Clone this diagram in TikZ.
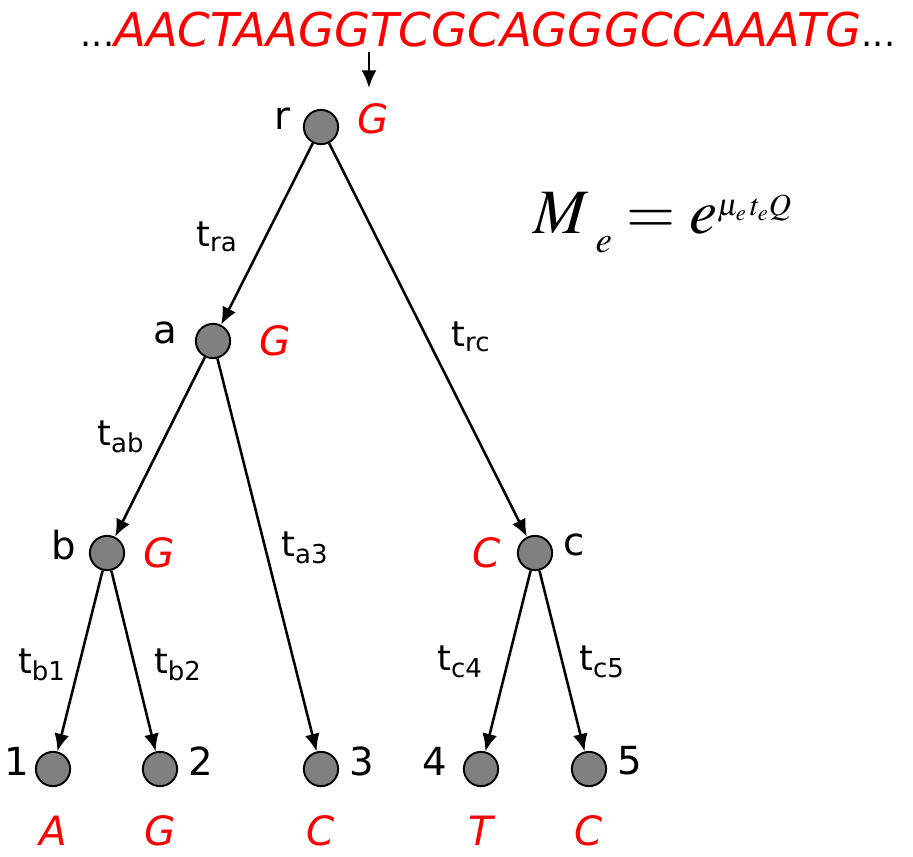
\documentclass[tikz,border=0pt]{standalone}
\usepackage{mathptmx}
\usepackage{fontspec}
\setmainfont{DejaVu Sans}
\usetikzlibrary{arrows.meta,positioning}
\definecolor{basered}{HTML}{FF0000}
\definecolor{nodegray}{HTML}{808080}
\tikzset{
  vertex/.style={
    circle, draw=black, fill=nodegray, line width=1.1pt,
    minimum size=19.5pt, inner sep=0pt
  },
  tag/.style={font=\fontsize{22}{22}\selectfont, inner sep=0pt, yshift=4.5pt},
  base/.style={font=\fontsize{23}{23}\selectfont\itshape, text=basered, inner sep=0pt},
  lifted/.style={yshift=4.5pt},
  brlen/.style={font=\fontsize{20}{20}\selectfont, inner sep=0pt},
  arrow/.style={-{Latex[length=10pt,width=8.5pt]}, line width=1.45pt}
}

\begin{document}
\begin{tikzpicture}[x=0.02cm, y=-0.02cm, node distance=6pt]
  \useasboundingbox (0,0) rectangle (913,856);

  % sequence and the site that is followed
  \node[font=\fontsize{26.5}{26.5}\selectfont, inner sep=0pt] (seq) at (488,30)
    {{\fontsize{20}{20}\selectfont...}{\itshape\color{basered}AACTAAGGTCGCAGGGCCAAATG}{\fontsize{20}{20}\selectfont...}};
  \coordinate (site) at (369,52);
  \coordinate (siteend) at (369,88);
  \draw[arrow] (site) -- (siteend);

  % tree
  \node[vertex] (r) at (321,127) {};
  \node[vertex] (a) at (213,341) {};
  \node[vertex] (b) at (107,553) {};
  \node[vertex] (c) at (535,553) {};
  \node[vertex] (l1) at (53,769) {};
  \node[vertex] (l2) at (160,769) {};
  \node[vertex] (l3) at (321,769) {};
  \node[vertex] (l4) at (481,769) {};
  \node[vertex] (l5) at (589,769) {};

  % names and states
  \node[tag, left=7pt of r] (rname) {r};
  \node[base, lifted, right=10pt of r] (rbase) {G};
  \node[tag, left=10pt of a] (aname) {a};
  \node[base, right=16pt of a] (abase) {G};
  \node[tag, left=7pt of b] (bname) {b};
  \node[base, right=10pt of b] (bbase) {G};
  \node[base, left=9pt of c] (cbase) {C};
  \node[tag, right=of c] (cname) {c};
  \node[tag, left=3pt of l1] (name1) {1};
  \node[tag, right=of l2] (name2) {2};
  \node[tag, right=of l3] (name3) {3};
  \node[tag, left=9pt of l4] (name4) {4};
  \node[tag, right=of l5] (name5) {5};
  \node[base, below=16pt of l1] (base1) {A};
  \node[base, below=16pt of l2] (base2) {G};
  \node[base, below=16pt of l3] (base3) {C};
  \node[base, below=16pt of l4] (base4) {T};
  \node[base, below=16pt of l5] (base5) {C};

  % branches
  \draw[arrow] (r) -- (a);
  \draw[arrow] (r) -- (c);
  \draw[arrow] (a) -- (b);
  \draw[arrow] (a) -- (l3);
  \draw[arrow] (b) -- (l1);
  \draw[arrow] (b) -- (l2);
  \draw[arrow] (c) -- (l4);
  \draw[arrow] (c) -- (l5);

  \node[brlen] (tra) at (217,237) {t\textsubscript{ra}};
  \node[brlen] (trc) at (471,337) {t\textsubscript{rc}};
  \node[brlen] (tab) at (121,437) {t\textsubscript{ab}};
  \node[brlen] (ta3) at (305,548) {t\textsubscript{a3}};
  \node[brlen] (tb1) at (42,665) {t\textsubscript{b1}};
  \node[brlen] (tb2) at (178,665) {t\textsubscript{b2}};
  \node[brlen] (tc4) at (460,662) {t\textsubscript{c4}};
  \node[brlen] (tc5) at (602,662) {t\textsubscript{c5}};

  % transition matrix
  \node[font=\fontsize{36}{36}\selectfont, anchor=base west, inner sep=0pt] (rate) at (533,233)
    {$M\,\mbox{\raisebox{-11pt}{\fontsize{21}{21}\selectfont$e$}} = e\mbox{\raisebox{10pt}{\fontsize{17.5}{17.5}\selectfont$\mu_e\, t_e Q$}}$};
\end{tikzpicture}
\end{document}
